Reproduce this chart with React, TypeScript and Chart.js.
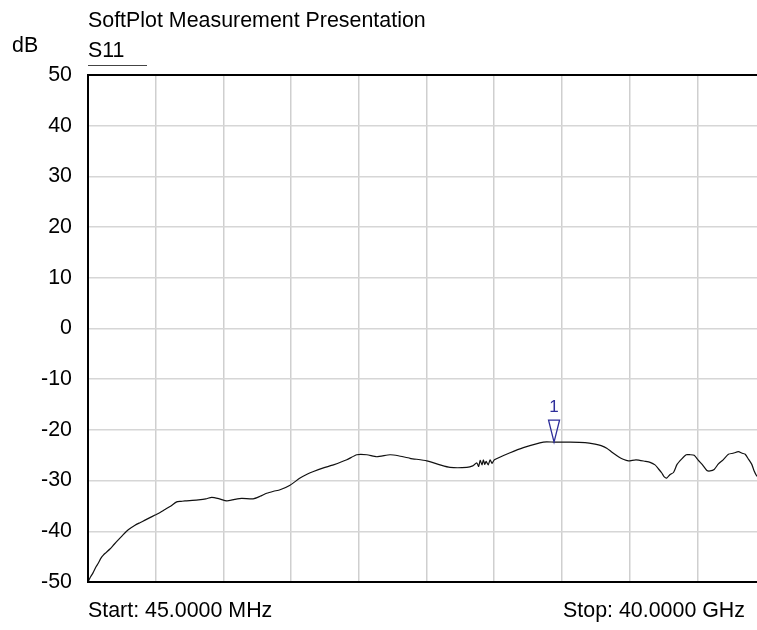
import React, { useEffect, useRef } from "react";
import { Chart, registerables } from "chart.js";

Chart.register(...registerables);

const startGHz = 0.045;
const stopGHz = 40.0;
const gridDivisions = 10;
const yTicks = [-50, -40, -30, -20, -10, 0, 10, 20, 30, 40, 50];

const freqGHz = [
  // 0 - 6 GHz
  0.045, 0.16, 0.34, 0.52, 0.65, 0.81, 0.95, 1.11, 1.34, 1.58, 1.83, 2.11, 2.42, 2.82, 3.11, 3.41, 3.7, 4.0, 4.3, 4.59,
  4.94, 5.28, 5.53, 5.77,
  // 6 - 16 GHz
  6.2, 6.56, 7.0, 7.35, 7.8, 8.23, 8.7, 9.12, 9.79, 10.2, 10.59, 11.0, 11.38, 11.97, 12.56, 13.0, 13.35, 13.94, 14.53,
  15.32, 15.91,
  // 16 - 24 GHz
  16.5, 17.09, 17.87, 18.36, 19.05, 20.04, 20.82, 21.41, 22.4, 22.75, 22.99, 23.1, 23.19, 23.3, 23.38, 23.46, 23.54,
  23.66, 23.78, 23.89, 24.03,
  // 24 - 34 GHz
  24.96, 25.74, 26.92, 27.55, 28.5, 29.38, 29.97, 30.33, 30.66, 30.97, 31.35, 31.63, 31.94, 32.39, 32.93, 33.22, 33.51,
  33.69,
  // 34 - 40 GHz
  33.91, 34.04, 34.2, 34.4, 34.6, 34.81, 35.09, 35.35, 35.58, 35.82, 36.07, 36.29, 36.57, 36.76, 37.0, 37.25, 37.53,
  37.84, 38.12, 38.43, 38.65, 38.83, 39.03, 39.22, 39.36, 39.52, 40.0,
];

const s11dB = [
  // 0 - 6 GHz
  -50, -49.2, -48.2, -47.0, -46.3, -45.3, -44.7, -44.2, -43.5, -42.6, -41.7, -40.7, -39.7, -38.8, -38.3, -37.8, -37.3,
  -36.8, -36.3, -35.7, -35.0, -34.2, -34.1, -34.0,
  // 6 - 16 GHz
  -33.9, -33.8, -33.6, -33.3, -33.6, -34.0, -33.7, -33.5, -33.6, -33.1, -32.5, -32.1, -31.8, -30.9, -29.5, -28.7, -28.2,
  -27.5, -26.9, -25.9, -24.9,
  // 16 - 24 GHz
  -24.9, -25.3, -24.9, -25.1, -25.6, -26.1, -26.9, -27.4, -27.4, -27.1, -26.5, -27.2, -26.0, -26.9, -25.9, -26.8, -26.2,
  -26.9, -25.9, -26.6, -25.9,
  // 24 - 34 GHz
  -24.5, -23.5, -22.4, -22.4, -22.4, -22.5, -22.8, -23.1, -23.6, -24.4, -25.3, -25.8, -26.1, -25.9, -26.2, -26.4, -26.9,
  -27.6,
  // 34 - 40 GHz
  -28.5, -29.2, -29.5, -28.8, -28.4, -26.8, -25.7, -24.9, -24.9, -25.0, -26.0, -26.8, -28.0, -28.1, -27.8, -26.7, -25.9,
  -24.8, -24.6, -24.3, -24.6, -24.8, -25.8, -26.8, -28.1, -29.1, -30.0,
];

const markerIndex = 69;
const markerLabel = "1";

const titleText = "SoftPlot Measurement Presentation";
const unitText = "dB";
const traceText = "S11";
const startText = "Start: 45.0000 MHz";
const stopText = "Stop: 40.0000 GHz";

const FONT = '"Liberation Sans", Arial, sans-serif';
const FONT_SIZE = 21.4;

export default function App() {
  const canvasRef = useRef<HTMLCanvasElement | null>(null);

  useEffect(() => {
    const canvas = canvasRef.current;
    if (!canvas) return;

    const overlay = {
      id: "overlay",
      afterDraw(chart: any) {
        const { ctx, chartArea } = chart;
        ctx.save();
        ctx.strokeStyle = "#000";
        ctx.lineWidth = 2;
        ctx.strokeRect(chartArea.left, chartArea.top, chartArea.right - chartArea.left, chartArea.bottom - chartArea.top);

        ctx.fillStyle = "#000";
        ctx.font = `${FONT_SIZE}px ${FONT}`;
        ctx.textBaseline = "alphabetic";
        ctx.textAlign = "left";
        ctx.fillText(titleText, chartArea.left, 27);
        ctx.fillText(unitText, 12, 52);
        ctx.fillText(traceText, chartArea.left, 57);
        ctx.fillText(startText, chartArea.left, 617);
        ctx.textAlign = "right";
        ctx.fillText(stopText, chartArea.right - 20, 617);

        ctx.strokeStyle = "#444";
        ctx.lineWidth = 1;
        ctx.beginPath();
        ctx.moveTo(chartArea.left, 65.5);
        ctx.lineTo(chartArea.left + 59, 65.5);
        ctx.stroke();

        const meta = chart.getDatasetMeta(0);
        const el = meta.data[markerIndex];
        if (el) {
          const px = el.x;
          const py = el.y;
          ctx.strokeStyle = "#2e2e9a";
          ctx.lineWidth = 1.3;
          ctx.beginPath();
          ctx.moveTo(px, py);
          ctx.lineTo(px - 5.5, py - 22);
          ctx.lineTo(px + 5.5, py - 22);
          ctx.closePath();
          ctx.stroke();
          ctx.fillStyle = "#2e2e9a";
          ctx.font = `17px ${FONT}`;
          ctx.textAlign = "center";
          ctx.fillText(markerLabel, px, py - 30);
        }
        ctx.restore();
      },
    };

    const chart = new Chart(canvas, {
      type: "line",
      data: {
        datasets: [
          {
            label: traceText,
            data: freqGHz.map((f, i) => ({ x: f, y: s11dB[i] })),
            borderColor: "#111",
            borderWidth: 1.2,
            pointRadius: 0,
            tension: 0.2,
            fill: false,
          },
        ],
      },
      options: {
        responsive: false,
        animation: false,
        layout: { padding: { top: 75, bottom: 48, right: 15, left: 0 } },
        plugins: { legend: { display: false }, tooltip: { enabled: false }, title: { display: false } },
        scales: {
          x: {
            type: "linear",
            min: startGHz,
            max: stopGHz,
            afterBuildTicks: (scale: any) => {
              const step = (stopGHz - startGHz) / gridDivisions;
              scale.ticks = Array.from({ length: gridDivisions + 1 }, (_, i) => ({ value: startGHz + i * step }));
            },
            afterFit: (scale: any) => {
              scale.height = 0;
            },
            ticks: { display: false },
            grid: { color: "#cfcfcf", lineWidth: 1.5, drawTicks: false },
            border: { display: false },
          },
          y: {
            type: "linear",
            min: -50,
            max: 50,
            afterBuildTicks: (scale: any) => {
              scale.ticks = yTicks.map((v) => ({ value: v }));
            },
            afterFit: (scale: any) => {
              scale.width = 88;
            },
            ticks: { color: "#000", font: { size: FONT_SIZE, family: FONT }, padding: 16 },
            grid: { color: "#d6d6d6", lineWidth: 1.5, drawTicks: false },
            border: { display: false },
          },
        },
      },
      plugins: [overlay],
    });

    return () => chart.destroy();
  }, []);

  return (
    <div style={{ position: "fixed", left: 0, top: 0, width: 757, height: 630, overflow: "hidden", background: "#fff" }}>
      <canvas ref={canvasRef} width={780} height={630} style={{ display: "block" }} />
    </div>
  );
}
